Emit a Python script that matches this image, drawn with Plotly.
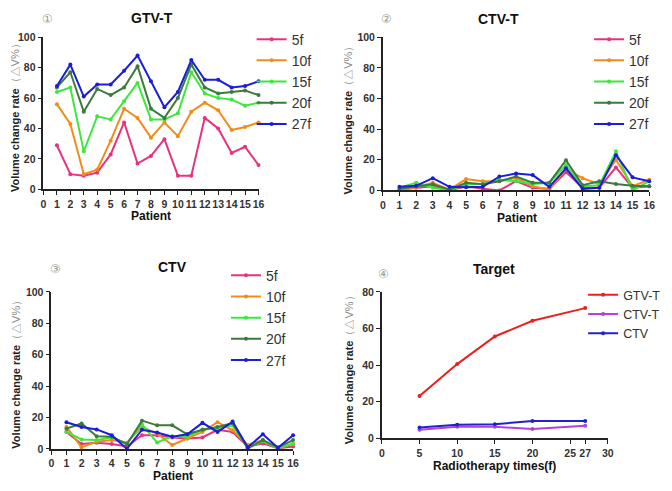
import plotly.graph_objects as go

W, H = 672, 491

patients = list(range(1, 17))
fractions = ["5f", "10f", "15f", "20f", "27f"]

gtv_t_5f = [29, 10, 9, 11, 23, 44, 17, 22, 33, 9, 9, 47, 40, 24, 28, 16]
gtv_t_10f = [56, 43, 10, 13, 32, 53, 47, 34, 44, 35, 51, 57, 52, 39, 41, 44]
gtv_t_15f = [64, 67, 25, 48, 46, 58, 70, 46, 46, 50, 77, 63, 60, 59, 55, 57]
gtv_t_20f = [67, 77, 51, 66, 62, 67, 81, 53, 47, 60, 82, 67, 63, 64, 65, 62]
gtv_t_27f = [68, 82, 61, 69, 69, 78, 88, 71, 54, 64, 85, 72, 72, 67, 68, 71]

ctv_t_5f = [0.5, 1.7, 2.7, 0, 2.7, 1, 0, 6, 1.7, 1, 12, 1.7, 1.7, 15, 1.7, 2.7]
ctv_t_10f = [0, 2, 5, 0.5, 7.4, 6, 6, 8, 2.7, 0.5, 14, 8, 4, 20, 2.7, 7]
ctv_t_15f = [1.7, 5, 1.7, 0, 4, 4.2, 7, 6, 4.2, 5, 16.5, 2.7, 3.4, 25.5, 0, 6]
ctv_t_20f = [1, 2.7, 4, 0.5, 5, 4, 6, 9, 5, 5, 19.7, 3.4, 6, 4.2, 3, 2.7]
ctv_t_27f = [2.3, 3, 8, 2.3, 2, 2.3, 9, 11, 10, 2.3, 14.4, 1, 1.7, 23, 8.5, 6]

ctv_5f = [10.8, 3.1, 3.9, 3.1, 1.5, 8.7, 8.7, 7.3, 6.6, 7.3, 12.2, 10.8, 1.5, 3.5, 0.4, 1.5]
ctv_10f = [14, 1, 4.6, 5.6, 3.9, 14, 9.8, 2.5, 6.6, 10.8, 17, 11.8, 2.5, 5.6, 0.4, 3.5]
ctv_15f = [10.8, 6, 5.6, 7.3, 3.5, 15.6, 4.1, 8, 7.7, 12.4, 13.3, 15, 0.4, 5, 0.4, 3.1]
ctv_20f = [12.9, 16.2, 8, 7.7, 3, 18, 15, 15, 9.3, 12.2, 14, 16.4, 0.4, 5.6, 1, 5.6]
ctv_27f = [17, 14, 12.4, 8.7, 0, 12.2, 10.4, 7.7, 9.3, 16.6, 10.8, 17.4, 1, 9.3, 0.8, 8.7]

times = [5, 10, 15, 20, 27]
target_names = ["GTV-T", "CTV-T", "CTV"]
target_gtv_t = [23.1, 40.5, 55.6, 64.2, 71.1]
target_ctv_t = [4.6, 6.2, 6.2, 5.0, 6.8]
target_ctv = [5.9, 7.3, 7.6, 9.4, 9.4]

frac_colors = ["#e6337f", "#f08c1a", "#3de83d", "#3d7a3d", "#1c1cdc"]
target_colors = ["#e82020", "#b044d8", "#2222cc"]

FONT = "Liberation Sans, Arial, sans-serif"

def px_x(a, b):
    return [a / W, b / W]

def px_y(top, bottom):
    return [1 - bottom / H, 1 - top / H]

fig = go.Figure()

panels = [
    ([gtv_t_5f, gtv_t_10f, gtv_t_15f, gtv_t_20f, gtv_t_27f], "x", "y", "legend"),
    ([ctv_t_5f, ctv_t_10f, ctv_t_15f, ctv_t_20f, ctv_t_27f], "x2", "y2", "legend2"),
    ([ctv_5f, ctv_10f, ctv_15f, ctv_20f, ctv_27f], "x3", "y3", "legend3"),
]
for series, xa, ya, lg in panels:
    for name, vals, col in zip(fractions, series, frac_colors):
        fig.add_trace(go.Scatter(
            x=patients, y=vals, name=name, mode="lines+markers",
            line=dict(color=col, width=2), marker=dict(color=col, size=4),
            xaxis=xa, yaxis=ya, legend=lg, cliponaxis=False))

for name, vals, col in zip(target_names, [target_gtv_t, target_ctv_t, target_ctv], target_colors):
    fig.add_trace(go.Scatter(
        x=times, y=vals, name=name, mode="lines+markers",
        line=dict(color=col, width=2), marker=dict(color=col, size=4),
        xaxis="x4", yaxis="y4", legend="legend4", cliponaxis=False))

tickfont = dict(family=FONT, size=10.5, color="#333333", weight="bold")
axis_common = dict(showline=True, linecolor="#222222", linewidth=1.6, ticks="outside",
                   ticklen=4, tickwidth=1.4, tickcolor="#222222", showgrid=False,
                   zeroline=False, tickfont=tickfont, fixedrange=True, tickangle=0)

layout = dict(
    width=W, height=H, margin=dict(l=0, r=0, t=0, b=0),
    paper_bgcolor="white", plot_bgcolor="white", showlegend=True,
    xaxis=dict(domain=px_x(41, 259), range=[0, 16], tickmode="linear", dtick=1, anchor="y", **axis_common),
    yaxis=dict(domain=px_y(32, 188), range=[0, 100], tickvals=[0, 20, 40, 60, 80, 100], anchor="x", **axis_common),
    xaxis2=dict(domain=px_x(385, 655), range=[0, 16], tickmode="linear", dtick=1, anchor="y2", **axis_common),
    yaxis2=dict(domain=px_y(32, 189), range=[0, 100], tickvals=[0, 20, 40, 60, 80, 100], anchor="x2", **axis_common),
    xaxis3=dict(domain=px_x(49, 294), range=[0, 16], tickmode="linear", dtick=1, anchor="y3", **axis_common),
    yaxis3=dict(domain=px_y(293, 454), range=[0, 100], tickvals=[0, 20, 40, 60, 80, 100], anchor="x3", **axis_common),
    xaxis4=dict(domain=px_x(384, 613), range=[0, 30], tickvals=[0, 5, 10, 15, 20, 25, 27, 30], anchor="y4", **axis_common),
    yaxis4=dict(domain=px_y(293, 443), range=[0, 80], tickvals=[0, 20, 40, 60, 80], anchor="x4", **axis_common),
)

def leg(x, y, size):
    return dict(x=x / W, y=1 - y / H, xanchor="left", yanchor="top", itemwidth=30,
                tracegroupgap=0, bgcolor="rgba(0,0,0,0)",
                font=dict(family=FONT, size=size, color="#333333"))

layout["legend"] = leg(252, 18, 14)
layout["legend2"] = leg(594, 18, 14)
layout["legend3"] = leg(226, 260, 14)
layout["legend4"] = leg(588, 281, 12.5)
fig.update_layout(**layout)

def ann(x, y, text, size, color="#111111", bold=True, angle=0):
    fig.add_annotation(x=x / W, y=1 - y / H, xref="paper", yref="paper", text=text,
                       showarrow=False, textangle=angle, xanchor="center", yanchor="middle",
                       font=dict(family=FONT, size=size, color=color, weight="bold" if bold else "normal"))

# panel titles
ann(151, 12, "GTV-T", 14)
ann(502, 13, "CTV-T", 14)
ann(172, 268, "CTV", 14)
ann(498, 270, "Target", 14)

# panel numbers
ann(45, 13, "①", 12, color="#999999", bold=False)
ann(389, 13, "②", 12, color="#999999", bold=False)
ann(53, 270, "③", 12, color="#999999", bold=False)
ann(386, 275, "④", 12, color="#999999", bold=False)

# axis titles
ytitle = "<b>Volume change rate</b><span style='color:#888888'>（△V%）</span>"
ann(12, 112, ytitle, 11, color="#222222", bold=False, angle=-90)
ann(350, 114, ytitle, 11, color="#222222", bold=False, angle=-90)
ann(13, 375, ytitle, 11, color="#222222", bold=False, angle=-90)
ann(351, 370, ytitle, 11, color="#222222", bold=False, angle=-90)

ann(150, 215, "Patient", 12)
ann(521, 217, "Patient", 12)
ann(172, 482, "Patient", 12)
ann(498, 472, "Radiotherapy times(f)", 12)

fig.write_html("out.html", config={"displayModeBar": False},
               post_script="document.body.style.margin='0px';document.body.style.overflow='hidden';")
